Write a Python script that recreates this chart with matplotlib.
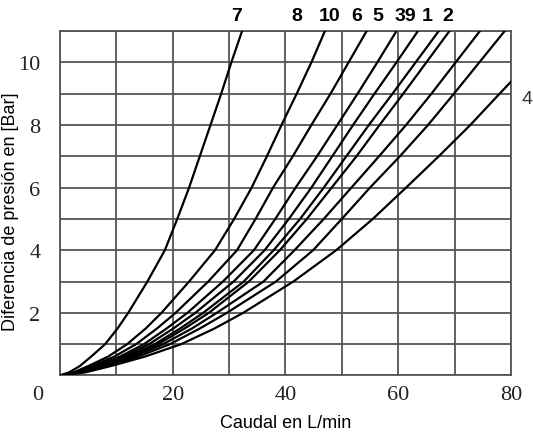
import matplotlib
matplotlib.use("Agg")
import matplotlib.pyplot as plt
from matplotlib.transforms import ScaledTranslation

pressure_levels = [0, 0.1, 0.3, 0.6, 1, 1.5, 2, 3, 4, 5, 6, 7, 8, 9, 10, 11]

# flow (L/min) of each curve at those pressure levels
flow_7 = [0, 1.6, 3.5, 5.5, 8.0, 10.2, 12.1, 15.5, 18.6, 20.8, 22.9, 24.8, 26.7, 28.6, 30.4, 32.3]
flow_8 = [0, 2.4, 5.0, 8.5, 11.9, 15.2, 18.0, 22.9, 27.5, 30.9, 34.0, 36.7, 39.3, 42.0, 44.6, 47.0]
flow_10 = [0, 2.7, 5.6, 9.6, 13.5, 17.2, 20.5, 26.3, 31.4, 34.7, 37.8, 41.3, 44.6, 48.0, 51.2, 54.4]
flow_6 = [0, 3.0, 6.2, 10.6, 14.9, 18.9, 22.6, 28.9, 34.4, 38.2, 41.8, 45.6, 49.2, 52.8, 56.3, 59.7]
flow_5 = [0, 3.2, 6.6, 11.3, 15.8, 20.1, 24.0, 30.8, 36.3, 40.6, 44.6, 48.3, 52.0, 55.8, 59.7, 63.5]
flow_3 = [0, 3.4, 7.0, 11.9, 16.8, 21.3, 25.4, 32.6, 37.9, 42.6, 46.8, 50.8, 54.8, 59.0, 63.1, 67.2]
flow_9 = [0, 3.5, 7.2, 12.4, 17.4, 22.1, 26.4, 33.5, 39.0, 43.8, 48.2, 52.6, 56.7, 60.9, 65.0, 69.1]
flow_1 = [0, 3.7, 7.6, 13.0, 18.3, 23.4, 27.8, 36.1, 41.6, 46.8, 51.7, 56.6, 61.4, 65.9, 70.2, 74.5]
flow_2 = [0, 4.0, 8.1, 13.8, 19.5, 24.8, 29.6, 38.3, 44.9, 50.0, 55.0, 60.3, 65.3, 69.9, 74.4, 78.9]

# curve 4 leaves through the right edge
pressure_4 = [0, 0.1, 0.3, 0.6, 1, 1.5, 2, 3, 4, 5, 6, 7, 8, 9, 9.38]
flow_4 = [0, 4.5, 9.0, 15.0, 21.5, 27.4, 32.5, 41.4, 49.0, 55.5, 61.4, 67.2, 72.8, 78.0, 80.0]

curves = [flow_7, flow_8, flow_10, flow_6, flow_5, flow_3, flow_9, flow_1, flow_2]

# curve names written above the chart / beside it
label_texts = ["7", "8", "10", "6", "5", "39", "1", "2"]
label_x = [31.4, 42.0, 47.9, 52.7, 56.4, 61.2, 65.2, 68.8]

x_ticks = [0, 20, 40, 60, 80]
y_ticks = [2, 4, 6, 8, 10]

fig = plt.figure(figsize=(5.33, 4.39), dpi=100)
ax = fig.add_axes([0.1126, 0.1424, 0.846, 0.7847])

grid_col = "#555555"
for xv in range(0, 81, 10):
    ax.axvline(xv, color=grid_col, lw=1.3, zorder=1)
for yv in range(0, 12):
    ax.axhline(yv, color=grid_col, lw=1.3, zorder=1)

for fl in curves:
    ax.plot(fl, pressure_levels, color="black", lw=1.6, zorder=3,
            solid_joinstyle="round")
ax.plot(flow_4, pressure_4, color="black", lw=1.6, zorder=3,
        solid_joinstyle="round")

ax.set_xlim(0, 80)
ax.set_ylim(0, 11)
for s in ax.spines.values():
    s.set_color(grid_col)
    s.set_linewidth(1.3)

ax.set_xticks(x_ticks)
ax.set_xticklabels([str(v) for v in x_ticks])
ax.set_yticks(y_ticks)
ax.set_yticklabels([str(v) for v in y_ticks])
ax.tick_params(length=0, labelsize=16)
ax.tick_params(axis="x", pad=7)
ax.tick_params(axis="y", pad=14)
for lab in ax.get_xticklabels() + ax.get_yticklabels():
    lab.set_family("Liberation Serif")
    lab.set_color("#222222")
# the origin label sits left of the axis corner
ax.get_xticklabels()[0].set_transform(
    ax.get_xticklabels()[0].get_transform() + ScaledTranslation(-0.22, 0, fig.dpi_scale_trans))

narrow = ["Liberation Sans Narrow", "Liberation Sans", "DejaVu Sans"]
for t, xv in zip(label_texts, label_x):
    ax.text(xv, 11.5, t, ha="center", va="center", fontsize=14,
            fontweight="bold", family=narrow, clip_on=False)
ax.text(82.8, 8.83, "4", ha="center", va="center", fontsize=14,
        family=narrow, clip_on=False, color="#333333")

ax.set_xlabel("Caudal en L/min", family="Liberation Sans", fontsize=13)
ax.set_ylabel("Diferencia de presión en [Bar]", family="Liberation Sans",
              fontsize=13)
ax.xaxis.set_label_coords(0.5, -0.113)
ax.yaxis.set_label_coords(-0.09, 0.477)

fig.savefig("out.png", dpi=100)
